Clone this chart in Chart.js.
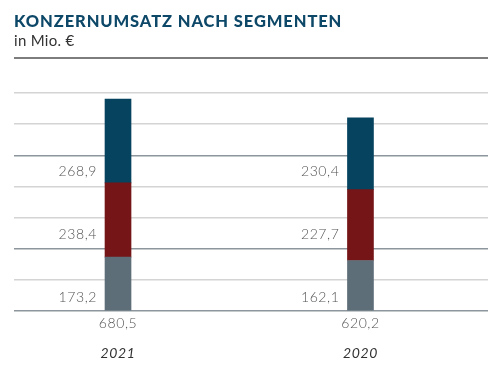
<!DOCTYPE html>
<html>
<head>
<meta charset="utf-8">
<script src="https://cdn.jsdelivr.net/npm/chart.js@4"></script>
<style>
  body { margin: 0; background: #fff; }
  #wrap { position: relative; width: 500px; height: 375px; }
  #head { position: absolute; left: 14px; top: 11px; width: 474px; height: 46px; border-bottom: 2px solid #7d7d7d; font-family: Lato, sans-serif; }
  #head h1 { margin: 0; font-size: 16.5px; line-height: 20px; font-weight: 900; color: #0d4868; letter-spacing: 0.9px; }
  #head p { margin: 0; font-size: 15px; line-height: 18px; color: #333; letter-spacing: 0.3px; }
  canvas { position: absolute; left: 0; top: 0; }
</style>
</head>
<body>
<div id="wrap">
  <canvas id="myChart" width="500" height="375"></canvas>
  <div id="head">
    <h1>KONZERNUMSATZ NACH SEGMENTEN</h1>
    <p>in Mio. €</p>
  </div>
</div>
<script>
var years = ["2021", "2020"];
var segBottom = [173.2, 162.1];
var segMiddle = [238.4, 227.7];
var segTop = [268.9, 230.4];
var darkLines = [0, 200, 500];

var ctx = document.getElementById("myChart").getContext('2d');

function points(values) {
    return values.map(function (v, i) { return { x: i, y: v }; });
}

function fmt(v) {
    return v.toFixed(1).replace('.', ',');
}

// value labels left of the bars, totals and years under them
var labelPlugin = {
    id: 'labels',
    afterDatasetsDraw: function (chart) {
        var c = chart.ctx;
        var xs = chart.scales.x;
        var ys = chart.scales.y;
        var rows = [45, 245, 447];
        var series = [segBottom, segMiddle, segTop];
        c.save();
        years.forEach(function (year, i) {
            var cx = xs.getPixelForValue(i);
            c.font = '300 14px Lato, sans-serif';
            c.fillStyle = '#555';
            c.textAlign = 'right';
            c.textBaseline = 'middle';
            c.letterSpacing = '0.6px';
            series.forEach(function (s, k) {
                c.fillText(fmt(s[i]), cx - 21, ys.getPixelForValue(rows[k]));
            });
            c.textAlign = 'center';
            c.fillText(fmt(segBottom[i] + segMiddle[i] + segTop[i]), cx, ys.bottom + 12);
            c.font = 'italic 14px Lato, sans-serif';
            c.fillStyle = '#333';
            c.fillText(year, cx, ys.bottom + 42);
        });
        c.restore();
    }
};

var myChart = new Chart(ctx, {
    type: 'bar',
    data: {
        datasets: [{
            data: points(segBottom),
            backgroundColor: '#5e6e79'
        }, {
            data: points(segMiddle),
            backgroundColor: '#761517'
        }, {
            data: points(segTop),
            backgroundColor: '#06435f'
        }]
    },
    options: {
        responsive: false,
        animation: false,
        barThickness: 26,
        layout: {
            padding: { top: 93, left: 14, right: 12, bottom: 64 }
        },
        plugins: {
            legend: { display: false },
            tooltip: { enabled: false }
        },
        scales: {
            x: {
                type: 'linear',
                stacked: true,
                display: false,
                offset: false,
                min: -0.429,
                max: 1.526
            },
            y: {
                stacked: true,
                min: 0,
                max: 700,
                border: { display: false },
                ticks: { display: false, stepSize: 100 },
                grid: {
                    drawTicks: false,
                    lineWidth: 1.5,
                    color: function (c) {
                        return c.tick && darkLines.indexOf(c.tick.value) >= 0 ? '#8c969c' : '#d4d4d4';
                    }
                }
            }
        }
    },
    plugins: [labelPlugin]
});
</script>
</body>
</html>
